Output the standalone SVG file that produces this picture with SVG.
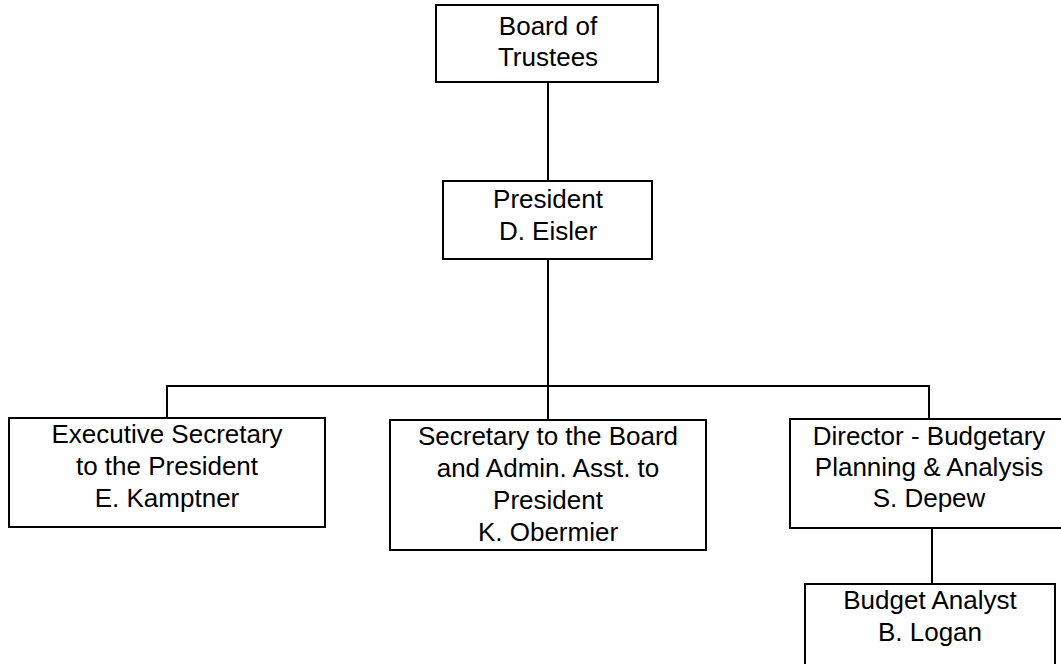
<svg xmlns="http://www.w3.org/2000/svg" width="1061" height="664" viewBox="0 0 1061 664">
<style>
rect{fill:#fff;stroke:#000;stroke-width:2}
line{stroke:#000;stroke-width:2}
text{font-family:"Liberation Sans",Arial,sans-serif;font-size:26px;fill:#000;text-anchor:middle}
</style>
<rect x="0" y="0" width="1061" height="664" style="stroke:none"/>
<g id="connectors">
<line x1="548" y1="82" x2="548" y2="181"/>
<line x1="548" y1="259" x2="548" y2="420"/>
<line x1="166" y1="386" x2="930" y2="386"/>
<line x1="167" y1="385" x2="167" y2="418"/>
<line x1="929" y1="385" x2="929" y2="419"/>
<line x1="932" y1="528" x2="932" y2="584"/>
</g>
<g id="board">
<rect x="436" y="5" width="222" height="77"/>
<text x="548" y="35">Board of</text>
<text x="548" y="66">Trustees</text>
</g>
<g id="president">
<rect x="443" y="181" width="209" height="78"/>
<text x="548" y="208">President</text>
<text x="548" y="240">D. Eisler</text>
</g>
<g id="exec">
<rect x="9" y="418" width="316" height="109"/>
<text x="167" y="443">Executive Secretary</text>
<text x="167" y="475">to the President</text>
<text x="167" y="507">E. Kamptner</text>
</g>
<g id="secretary">
<rect x="390" y="420" width="316" height="130"/>
<text x="548" y="445">Secretary to the Board</text>
<text x="548" y="477">and Admin. Asst. to</text>
<text x="548" y="509">President</text>
<text x="548" y="541">K. Obermier</text>
</g>
<g id="director">
<rect x="790" y="419" width="280" height="109"/>
<text x="929" y="445">Director - Budgetary</text>
<text x="929" y="476">Planning &amp; Analysis</text>
<text x="929" y="507">S. Depew</text>
</g>
<g id="analyst">
<rect x="805" y="584" width="250" height="90"/>
<text x="930" y="609">Budget Analyst</text>
<text x="930" y="641">B. Logan</text>
</g>
</svg>
